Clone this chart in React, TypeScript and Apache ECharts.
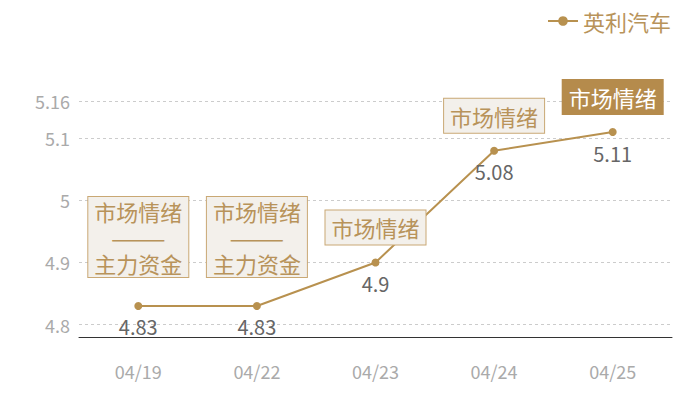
import React, { useEffect, useRef } from "react";
import * as echarts from "echarts";

const categories = ["04/19", "04/22", "04/23", "04/24", "04/25"];
const values = [4.83, 4.83, 4.9, 5.08, 5.11];
const yTicks = [4.8, 4.9, 5, 5.1, 5.16];
const seriesName = "英利汽车";
const noteTexts = [
  "市场情绪\n———\n主力资金",
  "市场情绪\n———\n主力资金",
  "市场情绪",
  "市场情绪",
  "市场情绪",
];
const noteHighlighted = [false, false, false, false, true];

const GOLD = "#b8914f";
const FONT = "Noto Sans CJK SC";

export default function App() {
  const ref = useRef<HTMLDivElement>(null);
  useEffect(() => {
    if (!ref.current) return;
    const chart = echarts.init(ref.current, null, { renderer: "svg" });
    const markData = categories.map((c, i) => {
      const multi = noteTexts[i].includes("\n");
      const hi = noteHighlighted[i];
      return {
        coord: [i, values[i]],
        symbol: "circle",
        symbolSize: 0,
        label: {
          show: true,
          position: "top",
          distance: multi ? 29 : 18,
          formatter: noteTexts[i],
          fontFamily: FONT,
          fontSize: 22,
          lineHeight: 26,
          color: hi ? "#ffffff" : "#b8935a",
          backgroundColor: hi ? "#b58b4c" : "#f3f0eb",
          borderColor: hi ? "#b58b4c" : "#c9a874",
          borderWidth: 1,
          padding: multi ? [1, 6, 1, 6] : [4, 6, 4, 6],
          align: "center",
        },
      };
    });
    chart.setOption({
      animation: false,
      textStyle: { fontFamily: FONT },
      legend: {
        right: 24,
        top: 5,
        itemWidth: 30,
        itemHeight: 12,
        itemGap: 10,
        textStyle: { color: "#b8935a", fontSize: 22, fontFamily: FONT },
        data: [seriesName],
      },
      grid: { left: 79, right: 28, top: 101, bottom: 63 },
      xAxis: {
        type: "category",
        data: categories,
        axisLine: { lineStyle: { color: "#333", width: 1 } },
        axisTick: { show: false },
        axisLabel: { color: "#aaaaaa", fontSize: 18, margin: 25, fontFamily: FONT },
      },
      yAxis: {
        type: "value",
        min: 4.78,
        max: 5.16,
        axisLine: { show: false },
        axisTick: { show: false, customValues: yTicks },
        axisLabel: {
          color: "#aaaaaa",
          fontSize: 18,
          margin: 9,
          fontFamily: FONT,
          customValues: yTicks,
        },
        splitLine: { lineStyle: { color: "#cccccc", type: [3, 3], width: 1 } },
      },
      series: [
        {
          name: seriesName,
          type: "line",
          data: values,
          symbol: "circle",
          symbolSize: 8,
          itemStyle: { color: GOLD },
          lineStyle: { color: GOLD, width: 2 },
          label: {
            show: true,
            position: "bottom",
            distance: 7,
            color: "#666666",
            fontSize: 20,
            fontFamily: FONT,
          },
          markPoint: { symbolSize: 0, data: markData },
        },
      ],
    });
    return () => chart.dispose();
  }, []);
  return <div ref={ref} style={{ width: 700, height: 400, position: "absolute", left: 0, top: 0 }} />;
}
